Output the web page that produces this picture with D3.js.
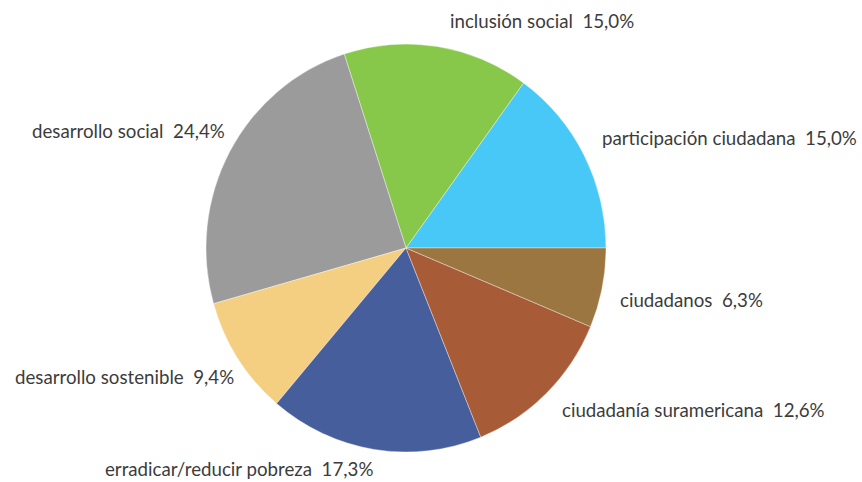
<!DOCTYPE html>
<html>
<head>
<meta charset="utf-8">
<script src="https://cdn.jsdelivr.net/npm/d3@7/dist/d3.min.js"></script>
<style>
  html, body { margin: 0; padding: 0; background: #ffffff; }
  svg { display: block; }
  text { font-family: Lato, "Open Sans", sans-serif; fill: #3c3c3c; white-space: pre; }
</style>
</head>
<body>
<svg id="chart" width="862" height="482"></svg>
<script>
// Topics and their share of mentions (%), listed counter-clockwise from 3 o'clock
const categories = [
  "participación ciudadana",
  "inclusión social",
  "desarrollo social",
  "desarrollo sostenible",
  "erradicar/reducir pobreza",
  "ciudadanía suramericana",
  "ciudadanos"
];
const values = [15.0, 15.0, 24.4, 9.4, 17.3, 12.6, 6.3];
const valueLabels = ["15,0%", "15,0%", "24,4%", "9,4%", "17,3%", "12,6%", "6,3%"];
const colors = ["#48c8f6", "#87c84a", "#9b9b9b", "#f4cf82", "#465e9c", "#a75c37", "#9c7641"];

// Label anchor points beside each slice: [left x, baseline y]
const labelPlacement = [
  [602, 145],
  [450, 28],
  [32, 138],
  [15, 384],
  [105, 476],
  [562, 417],
  [620, 307]
];

const svg = d3.select("#chart");
const cx = 406, cy = 248, r = 200, yStretch = 1.02;

const pie = d3.pie()
  .sort(null)
  .value(d => d)
  // d3 angles run clockwise from 12 o'clock: begin at 3 o'clock and go backwards
  .startAngle(Math.PI / 2)
  .endAngle(Math.PI / 2 - 2 * Math.PI);

const arc = d3.arc().innerRadius(0).outerRadius(r);

const g = svg.append("g")
  .attr("transform", `translate(${cx},${cy}) scale(1,${yStretch})`);

g.selectAll("path")
  .data(pie(values))
  .join("path")
  .attr("d", arc)
  .attr("fill", (d, i) => colors[i])
  .attr("stroke", "#ffffff")
  .attr("stroke-width", 0.6)
  .attr("stroke-opacity", 0.6);

svg.selectAll("text.lbl")
  .data(categories)
  .join("text")
  .attr("class", "lbl")
  .attr("x", (d, i) => labelPlacement[i][0])
  .attr("y", (d, i) => labelPlacement[i][1])
  .attr("font-size", 18.7)
  .text((d, i) => d + "  " + valueLabels[i]);
</script>
</body>
</html>
